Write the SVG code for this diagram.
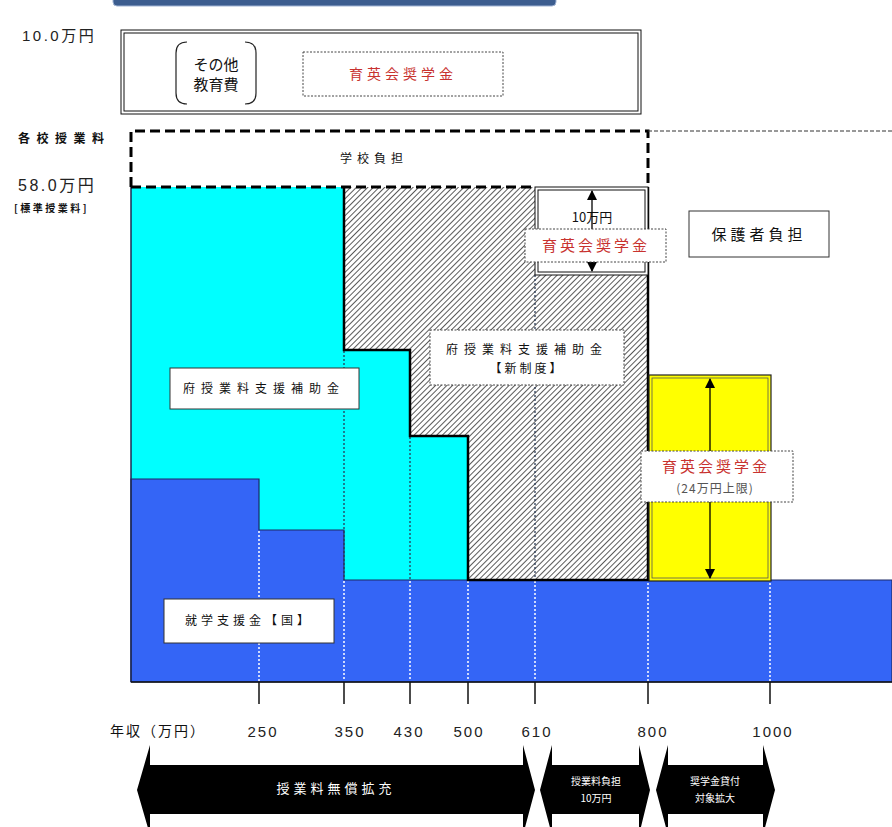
<svg xmlns="http://www.w3.org/2000/svg" width="892" height="827" viewBox="0 0 892 827">
<style>
.jp{font-family:"Noto Sans CJK JP","Liberation Sans",sans-serif;fill:#111}
.num{font-family:"Liberation Sans","Noto Sans CJK JP",sans-serif;fill:#222}
.red{fill:#c8322f}
.wt{fill:#fff}
.lbl{fill:#fff;stroke:#333;stroke-width:1}
.dlbl{fill:#fff;stroke:#444;stroke-width:1;stroke-dasharray:2 1.5}
.dotw{stroke:#fff;stroke-width:1.5;stroke-dasharray:2 2;fill:none}
.dotd{stroke:#2a3a55;stroke-width:1.3;stroke-dasharray:2 2;fill:none}
.tick{stroke:#111;stroke-width:1.5}
.thick{fill:none;stroke:#000;stroke-width:2.5}
.dash{fill:none;stroke:#000;stroke-width:3;stroke-dasharray:10 5}
.arr{fill:#000}
</style>
<defs>
<pattern id="hatch" patternUnits="userSpaceOnUse" width="4" height="4" patternTransform="rotate(45)">
<rect width="4" height="4" fill="#fff"/>
<line x1="0" y1="0" x2="0" y2="4" stroke="#222" stroke-width="1.5"/>
</pattern>
<marker id="ah" viewBox="0 0 10 10" refX="9" refY="5" markerWidth="10" markerHeight="10" markerUnits="userSpaceOnUse" orient="auto-start-reverse">
<path d="M0,0 L10,5 L0,10 z" fill="#000"/>
</marker>
</defs>
<rect width="892" height="827" fill="#fff"/>

<g id="top-bar"><rect x="113" y="-6" width="443" height="12" rx="4" fill="#3c5d8f" stroke="#9fb3d3" stroke-width="1"/></g>

<g id="axis-labels">
<text class="num" x="22" y="41" font-size="15" letter-spacing="2.5">10.0万円</text>
<text class="jp" x="18" y="143" font-size="12" font-weight="bold" letter-spacing="6.5">各校授業料</text>
<text class="num" x="18" y="191" font-size="16" letter-spacing="2.5">58.0万円</text>
<text class="jp" x="14" y="212" font-size="10" font-weight="bold" letter-spacing="2.5">[標準授業料]</text>
</g>

<g id="other-costs">
<rect x="121" y="30" width="520" height="84" fill="#fff" stroke="#111" stroke-width="1"/>
<rect x="124" y="33" width="514" height="78" fill="none" stroke="#111" stroke-width="1"/>
<path d="M187,42 Q176,42 176,53 L176,93 Q176,104 187,104 M245,42 Q256,42 256,53 L256,93 Q256,104 245,104" fill="none" stroke="#222" stroke-width="1.2"/>
<text class="jp" x="216" y="70" font-size="15" text-anchor="middle">その他</text>
<text class="jp" x="216" y="90" font-size="15" text-anchor="middle">教育費</text>
<rect x="303" y="52" width="200" height="44" class="dlbl"/>
<text class="jp red" x="403" y="79" font-size="14" text-anchor="middle" letter-spacing="4">育英会奨学金</text>
</g>

<g id="hatched-new-system">
<rect x="344" y="187" width="304" height="393" fill="url(#hatch)"/>
</g>

<g id="cyan-prefecture">
<polygon points="131,187 344,187 344,350 410,350 410,436 468,436 468,580 131,580" fill="#00ffff"/>
</g>

<g id="blue-national">
<polygon points="131,479 259,479 259,530 344,530 344,580 892,580 892,682 131,682" fill="#3465f6" stroke="#1c2a66" stroke-width="1.2"/>
</g>

<g id="chart-frame">
<line x1="131" y1="187" x2="131" y2="682" stroke="#1c2a55" stroke-width="1.5"/>
<line x1="131" y1="682" x2="892" y2="682" stroke="#111" stroke-width="1.5"/>
</g>

<g id="dotted-guides">
<line class="dotw" x1="259" y1="531" x2="259" y2="681"/>
<line class="dotd" x1="344" y1="351" x2="344" y2="580"/>
<line class="dotw" x1="344" y1="581" x2="344" y2="681"/>
<line class="dotd" x1="410" y1="437" x2="410" y2="580"/>
<line class="dotw" x1="410" y1="581" x2="410" y2="681"/>
<line class="dotw" x1="468" y1="581" x2="468" y2="681"/>
<line class="dotd" x1="535" y1="275" x2="535" y2="580"/>
<line class="dotw" x1="535" y1="581" x2="535" y2="681"/>
<line class="dotw" x1="648" y1="583" x2="648" y2="681"/>
<line class="dotw" x1="770" y1="583" x2="770" y2="681"/>
</g>

<g id="boundary">
<path class="thick" d="M344,187 V350 H410 V436 H468 V580 H648 V187"/>
</g>

<g id="school-burden">
<path class="dash" d="M131,187 V131 H648 V187 M131,187 H535"/>
<line x1="648" y1="131" x2="892" y2="131" stroke="#333" stroke-width="1" stroke-dasharray="4 2"/>
<text class="jp" x="374" y="163" font-size="12" text-anchor="middle" letter-spacing="5">学校負担</text>
</g>

<g id="box-10man">
<rect x="535" y="187" width="113" height="88" fill="#fff" stroke="#111" stroke-width="1"/>
<rect x="538" y="190" width="107" height="82" fill="none" stroke="#111" stroke-width="1"/>
<text class="jp" x="592" y="222" font-size="13" text-anchor="middle">10万円</text>
</g>

<g id="yellow-scholarship">
<rect x="649" y="375" width="122" height="206" fill="#ffff00" stroke="#222" stroke-width="1.2"/>
<rect x="652" y="378" width="116" height="200" fill="none" stroke="#555" stroke-width="0.8"/>
</g>

<g id="connectors">
<line x1="592" y1="191" x2="592" y2="271" stroke="#000" stroke-width="1.3" marker-start="url(#ah)" marker-end="url(#ah)"/>
<line x1="710" y1="379" x2="710" y2="578" stroke="#000" stroke-width="1.3" marker-start="url(#ah)" marker-end="url(#ah)"/>
</g>

<g id="label-scholarship-10man">
<rect x="525" y="229" width="141" height="33" class="dlbl"/>
<text class="jp red" x="596" y="251" font-size="15" text-anchor="middle" letter-spacing="3">育英会奨学金</text>
</g>

<g id="label-guardian">
<rect x="689" y="211" width="140" height="46" class="lbl"/>
<text class="jp" x="759" y="240" font-size="15" text-anchor="middle" letter-spacing="4">保護者負担</text>
</g>

<g id="label-prefecture">
<rect x="170" y="368" width="189" height="41" class="lbl"/>
<text class="jp" x="264" y="393" font-size="12" text-anchor="middle" letter-spacing="6">府授業料支援補助金</text>
</g>

<g id="label-new-system">
<rect x="430" y="330" width="194" height="55" class="dlbl"/>
<text class="jp" x="527" y="354" font-size="12" text-anchor="middle" letter-spacing="6">府授業料支援補助金</text>
<text class="jp" x="527" y="373" font-size="12" text-anchor="middle" letter-spacing="3">【新制度】</text>
</g>

<g id="label-yellow">
<rect x="641" y="451" width="152" height="51" class="dlbl"/>
<text class="jp red" x="716" y="472" font-size="15" text-anchor="middle" letter-spacing="3">育英会奨学金</text>
<text class="jp" x="715" y="493" font-size="12" text-anchor="middle" letter-spacing="1" style="fill:#555">(24万円上限)</text>
</g>

<g id="label-national">
<rect x="164" y="599" width="170" height="44" class="lbl"/>
<text class="jp" x="249" y="625" font-size="12" text-anchor="middle" letter-spacing="4">就学支援金【国】</text>
</g>

<g id="x-axis">
<line class="tick" x1="259" y1="682" x2="259" y2="704"/>
<line class="tick" x1="344" y1="682" x2="344" y2="704"/>
<line class="tick" x1="410" y1="682" x2="410" y2="704"/>
<line class="tick" x1="468" y1="682" x2="468" y2="704"/>
<line class="tick" x1="535" y1="682" x2="535" y2="704"/>
<line class="tick" x1="648" y1="682" x2="648" y2="704"/>
<line class="tick" x1="770" y1="682" x2="770" y2="704"/>
<text class="jp" x="110" y="736" font-size="14" letter-spacing="2">年収（万円）</text>
<text class="num" x="263" y="737" font-size="15" text-anchor="middle" letter-spacing="2">250</text>
<text class="num" x="350" y="737" font-size="15" text-anchor="middle" letter-spacing="2">350</text>
<text class="num" x="409" y="737" font-size="15" text-anchor="middle" letter-spacing="2">430</text>
<text class="num" x="469" y="737" font-size="15" text-anchor="middle" letter-spacing="2">500</text>
<text class="num" x="537" y="737" font-size="15" text-anchor="middle" letter-spacing="2">610</text>
<text class="num" x="653" y="737" font-size="15" text-anchor="middle" letter-spacing="2">800</text>
<text class="num" x="773" y="737" font-size="15" text-anchor="middle" letter-spacing="2">1000</text>
</g>

<g id="band-free-tuition">
<polygon class="arr" points="137,790 150,745 150,765 523,765 523,745 535,790 523,835 523,814 150,814 150,835"/>
<text class="jp" x="336" y="793" font-size="13" text-anchor="middle" letter-spacing="4" style="fill:#fff">授業料無償拡充</text>
</g>

<g id="band-10man">
<polygon class="arr" points="540,790 552,745 552,765 639,765 639,745 650,790 639,835 639,814 552,814 552,835"/>
<text class="jp" x="596" y="785" font-size="10" text-anchor="middle" style="fill:#fff">授業料負担</text>
<text class="jp" x="596" y="802" font-size="10" text-anchor="middle" style="fill:#fff">10万円</text>
</g>

<g id="band-scholarship">
<polygon class="arr" points="656,790 668,745 668,765 763,765 763,745 775,790 763,835 763,814 668,814 668,835"/>
<text class="jp" x="715" y="785" font-size="10" text-anchor="middle" style="fill:#fff">奨学金貸付</text>
<text class="jp" x="715" y="802" font-size="10" text-anchor="middle" style="fill:#fff">対象拡大</text>
</g>
</svg>
